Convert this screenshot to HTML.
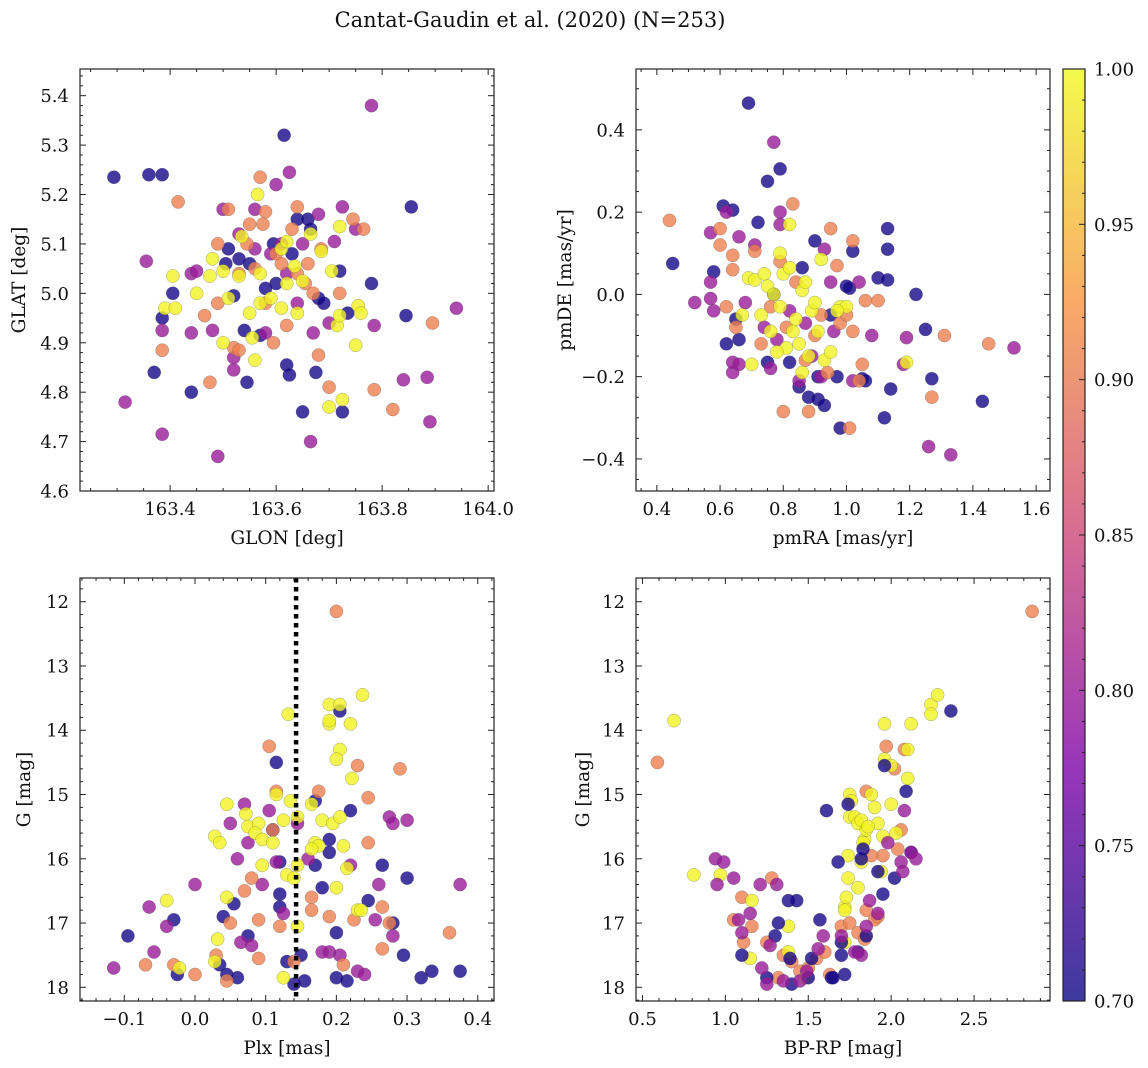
<!DOCTYPE html>
<html><head><meta charset="utf-8"><style>
html,body{margin:0;padding:0;background:#fff;}
svg{display:block;font-family:"DejaVu Serif","Liberation Serif",serif;}
</style></head><body>
<svg id="fig" width="1148" height="1068" viewBox="0 0 1148 1068" xmlns="http://www.w3.org/2000/svg">
<text x="530" y="27" font-size="21" text-anchor="middle" fill="#111">Cantat-Gaudin et al. (2020) (N=253)</text>
</svg>
<script>
// ---- data: each panel has x values, y values, membership probability ----
const glonBlue=[163.294,163.36,163.385,163.615,163.855,163.385,163.405,163.37,163.44,163.51,163.52,163.54,163.545,163.57,163.62,163.625,163.65,163.725,163.72,163.78,163.845,163.64,163.66,163.68,163.69,163.735,163.60,163.55,163.63,163.665,163.58,163.675,163.505,163.53,163.595];
const glatBlue=[5.235,5.24,5.24,5.32,5.175,4.95,5.0,4.84,4.80,5.09,4.995,4.925,4.82,4.915,4.855,4.835,4.76,4.76,5.045,5.02,4.955,5.15,5.15,4.99,4.98,4.96,5.02,5.06,5.08,5.13,5.01,4.84,5.06,5.07,5.1];
const glonPurp=[163.355,163.315,163.385,163.385,163.44,163.44,163.49,163.48,163.52,163.58,163.625,163.60,163.665,163.68,163.725,163.78,163.785,163.84,163.885,163.89,163.94,163.75,163.56,163.53,163.65,163.70,163.67,163.61,163.50,163.71,163.45,163.52,163.59,163.62,163.56,163.64];
const glatPurp=[5.065,4.78,4.715,4.925,4.92,5.04,4.67,4.925,4.845,4.92,5.245,5.22,4.70,5.16,5.175,5.38,4.935,4.825,4.83,4.74,4.97,5.13,5.17,5.12,5.10,4.94,4.92,5.10,5.17,5.105,5.045,4.87,5.08,5.04,5.09,4.98];
const glonSalm=[163.415,163.385,163.475,163.51,163.57,163.58,163.55,163.52,163.53,163.62,163.68,163.70,163.785,163.82,163.895,163.745,163.765,163.64,163.60,163.465,163.49,163.58,163.66,163.72,163.53,163.685,163.64,163.595,163.56,163.61,163.63,163.575,163.545,163.655,163.49,163.67];
const glatSalm=[5.185,4.885,4.82,5.17,5.235,5.165,5.14,4.89,4.885,4.935,4.875,4.81,4.805,4.765,4.94,5.15,5.13,5.04,5.08,4.955,5.1,4.98,5.06,5.0,5.04,5.09,5.175,4.90,5.05,5.06,5.13,5.14,5.1,5.02,4.98,5.0];
const glonYell=[163.405,163.39,163.41,163.45,163.48,163.50,163.50,163.51,163.535,163.565,163.57,163.55,163.56,163.57,163.59,163.61,163.62,163.635,163.64,163.665,163.685,163.705,163.72,163.715,163.72,163.70,163.725,163.755,163.76,163.75,163.53,163.61,163.65,163.62,163.475,163.555];
const glatYell=[5.035,4.97,4.97,5.0,5.07,5.045,4.90,4.99,5.115,5.2,5.04,4.96,4.865,4.98,4.99,5.09,5.105,5.055,4.96,5.12,5.085,5.045,5.135,4.935,4.955,4.77,4.785,4.975,4.96,4.895,5.035,4.97,5.025,5.02,5.035,4.91];

const pmraBlue=[0.69,0.79,0.75,0.45,0.61,0.64,0.58,0.62,0.65,0.72,0.75,0.82,0.85,0.88,0.91,0.93,0.98,0.97,1.01,1.02,1.00,1.10,1.13,1.13,1.13,1.12,1.14,1.22,1.25,1.27,1.43,1.05,0.95,0.90,0.77,0.86,1.06,0.66,0.91];
const pmdeBlue=[0.465,0.305,0.275,0.075,0.215,0.205,0.055,-0.12,-0.06,0.175,-0.165,-0.165,-0.225,-0.25,-0.255,-0.27,-0.325,-0.2,0.015,0.105,0.02,0.04,0.11,0.16,0.035,-0.30,-0.23,0.0,-0.085,-0.205,-0.26,-0.205,-0.05,0.13,0.0,0.065,-0.21,-0.11,-0.2];
const pmraPurp=[0.77,0.62,0.79,0.66,0.57,0.52,0.57,0.58,0.64,0.64,0.76,0.85,0.92,1.02,1.19,1.18,1.26,1.33,1.53,0.79,0.66,0.71,0.87,0.95,1.08,0.74,0.68,0.93,1.04,0.57,0.82,0.89,0.78,0.96];
const pmdePurp=[0.37,0.2,0.2,0.14,0.15,-0.02,-0.01,-0.04,-0.19,-0.165,-0.18,-0.21,-0.2,-0.21,-0.105,-0.17,-0.37,-0.39,-0.13,0.17,-0.17,0.12,-0.07,0.03,-0.1,-0.08,-0.02,0.11,0.03,0.03,-0.04,-0.15,-0.11,-0.09];
const pmraSalm=[0.44,0.60,0.60,0.64,0.64,0.83,0.95,1.02,0.80,0.88,1.01,1.27,1.31,1.45,1.10,0.65,0.73,0.90,0.98,1.02,1.04,0.92,0.76,0.84,0.97,1.00,0.71,0.62,1.06,0.81,0.94,0.87,0.79,1.05];
const pmdeSalm=[0.18,0.16,0.12,0.095,0.06,0.22,0.16,0.13,-0.285,-0.285,-0.325,-0.25,-0.10,-0.12,-0.015,-0.08,-0.12,-0.10,-0.07,-0.09,-0.21,-0.05,-0.03,0.03,0.07,-0.05,0.105,-0.03,-0.015,-0.08,-0.19,-0.16,0.08,-0.17];
const pmraYell=[0.82,0.69,0.71,0.74,0.75,0.77,0.79,0.80,0.82,0.84,0.85,0.81,0.78,0.76,0.73,0.70,0.88,0.89,0.91,0.93,0.95,0.98,1.00,1.19,0.86,0.83,0.79,0.87,0.92,0.67,0.90,0.97,0.86];
const pmdeYell=[0.17,0.04,0.035,0.05,0.02,0.0,-0.03,0.05,0.065,-0.06,-0.12,-0.13,-0.14,-0.09,-0.05,-0.17,-0.15,-0.04,-0.09,-0.16,-0.14,-0.03,-0.03,-0.165,0.01,-0.09,0.10,0.03,0.085,-0.05,-0.02,-0.04,-0.19];

const plxBlue=[-0.095,-0.025,-0.03,0.035,0.04,0.045,0.06,0.11,0.115,0.12,0.13,0.12,0.14,0.155,0.17,0.18,0.19,0.20,0.205,0.22,0.215,0.265,0.28,0.295,0.30,0.32,0.335,0.375,0.245,0.17,0.12,0.075,0.15,0.20,0.19,0.055];
const gBlue=[17.2,17.8,16.95,17.65,16.9,17.8,17.85,15.55,14.5,16.05,17.6,16.55,17.95,17.9,16.1,16.45,15.7,17.85,13.7,15.25,17.9,16.1,17.0,17.5,16.3,17.85,17.75,17.75,16.65,15.1,16.75,17.2,17.5,17.15,15.9,16.7];
const plxPurp=[-0.115,-0.065,-0.04,-0.058,0.0,0.05,0.07,0.075,0.065,0.095,0.105,0.115,0.16,0.19,0.23,0.255,0.26,0.275,0.28,0.30,0.375,0.145,0.22,0.125,0.08,0.18,0.24,0.06,0.28,0.205];
const gPurp=[17.7,16.75,17.05,17.45,16.4,15.45,15.15,15.75,17.3,16.4,15.25,16.05,16.0,17.45,17.75,16.95,16.4,15.35,15.45,15.4,16.4,15.45,16.1,16.85,17.35,17.45,17.8,16.0,17.2,17.5];
const plxSalm=[0.20,0.105,0.29,0.115,0.175,0.245,0.245,0.0,0.05,0.07,0.09,0.09,0.12,0.165,0.19,0.225,0.265,0.265,0.36,-0.07,-0.03,0.03,0.14,0.21,0.11,0.08,0.23,0.165,0.275,0.045];
const gSalm=[12.15,14.25,14.6,14.95,14.95,15.05,15.75,17.8,17.0,16.5,16.95,17.55,17.05,16.6,16.9,16.95,17.4,16.75,17.15,17.65,17.65,17.5,17.6,17.65,15.55,16.3,14.55,16.8,17.0,17.9];
const plxYell=[0.237,0.19,0.205,0.19,0.132,0.19,0.205,0.20,0.22,0.222,0.045,0.028,0.035,0.072,0.075,0.09,0.085,0.095,0.11,0.115,0.125,0.135,0.145,0.165,0.17,0.175,0.18,0.195,0.205,0.21,0.095,0.13,0.14,0.145,0.032,0.028,-0.04,0.23,0.235,0.125,0.045,0.145,0.165,0.215,0.2,-0.022];
const gYell=[13.45,13.6,13.6,13.9,13.75,13.85,14.3,14.45,13.9,14.75,15.15,15.65,15.75,15.3,15.5,15.45,15.6,15.7,15.75,15.0,15.4,15.1,15.35,15.15,15.75,15.8,15.4,15.45,15.35,15.8,16.1,16.25,16.3,16.1,17.25,17.6,16.65,16.8,16.8,17.85,16.6,17.05,15.85,16.15,16.45,17.7];

const bprpSalm=[2.85,0.59,1.97,1.95,2.04,1.10,1.05,1.11,1.25,1.28,1.35,1.40,1.50,1.55,1.60,1.70,1.75,1.80,1.85,1.90,1.92,1.16,1.32,1.45,1.63,1.84,1.88,2.06,2.02,2.08,1.85];
const gSalm4=[12.15,14.5,14.25,15.95,15.85,16.6,16.95,17.3,17.3,16.3,17.5,17.6,17.7,17.55,17.45,17.05,17.0,17.15,16.8,16.95,16.9,17.05,17.85,17.75,17.8,17.25,15.95,15.55,14.6,14.3,14.95];
const bprpYell=[0.69,0.81,0.97,1.16,1.15,1.38,1.38,1.48,1.72,1.72,1.73,1.74,1.75,1.75,1.76,1.78,1.80,1.82,1.84,1.85,1.88,1.90,1.92,1.95,1.96,2.0,2.0,2.03,2.10,2.12,2.24,2.24,2.28,1.96,1.72,1.80,1.82,1.83,1.86,1.94,2.1,1.74];
const gYell4=[13.85,16.25,16.25,16.65,17.55,17.05,17.45,17.85,17.3,16.75,16.6,16.3,15.0,15.35,15.1,15.35,15.45,15.4,15.7,15.55,15.0,15.2,15.45,15.65,14.45,14.55,15.15,15.6,14.75,13.9,13.6,13.75,13.45,13.9,16.8,16.45,16.05,15.75,15.5,16.2,14.3,15.95];
const bprpBlue=[2.36,1.61,1.68,2.09,2.12,2.02,1.95,1.92,1.85,1.80,1.72,1.64,1.50,1.40,1.38,1.43,1.25,1.30,1.10,1.57,1.65,1.70,1.82,1.96,1.83,1.52,1.39,1.32,1.70,1.74];
const gBlue4=[13.7,15.25,16.05,14.95,15.9,16.3,16.55,16.2,17.2,17.45,17.8,17.85,17.85,17.95,16.65,16.65,17.85,17.2,17.5,16.95,17.85,17.5,16.0,14.55,15.85,17.55,17.55,17.0,17.3,15.15];
const bprpPurp=[0.94,0.99,1.05,0.95,1.08,1.21,1.31,1.25,1.45,1.59,1.78,1.87,1.92,2.06,2.12,2.15,2.08,1.98,1.85,1.82,1.35,1.56,1.49,1.70,2.07,1.22,1.27,1.15,1.1];
const gPurp4=[16.0,16.05,16.3,16.4,16.95,16.4,16.4,17.95,17.9,17.2,17.45,16.65,16.85,16.05,15.9,16.0,15.25,15.75,17.05,17.5,17.9,17.4,17.75,17.2,16.2,17.7,17.35,16.85,17.15];

const probBlue=0.705, probPurp=0.80, probSalm=0.905, probYell=0.995;
const cbTicks=[0.70,0.75,0.80,0.85,0.90,0.95,1.00];
</script>
<script>
const NS="http://www.w3.org/2000/svg";
const svg=document.getElementById('fig');
function mk(tag,attrs,parent){const e=document.createElementNS(NS,tag);for(const k in attrs)e.setAttribute(k,attrs[k]);(parent||svg).appendChild(e);return e;}
const stops=[[0,[13,8,135]],[0.25,[126,3,168]],[0.5,[204,71,120]],[0.75,[248,149,64]],[1,[240,249,33]]];
function plasma(t){t=Math.max(0,Math.min(1,t));for(let i=0;i<stops.length-1;i++){const a=stops[i],b=stops[i+1];if(t<=b[0]){const f=(t-a[0])/(b[0]-a[0]);const c=a[1].map((v,j)=>Math.round(v+(b[1][j]-v)*f));return `rgb(${c[0]},${c[1]},${c[2]})`;}}return 'rgb(240,249,33)';}
function pc(p){return plasma((p-0.7)/0.3);}
function fmt(v,d){let s=v.toFixed(d);if(v<-1e-9)s='\u2212'+s.slice(1);return s;}

function panel(cfg){
  const g=mk('g',{});
  
  
  const {L,T,R,B}=cfg;
  const sx=v=>L+(v-cfg.x0)/(cfg.x1-cfg.x0)*(R-L);
  const sy=cfg.inv?(v=>T+(v-cfg.y0)/(cfg.y1-cfg.y0)*(B-T)):(v=>B-(v-cfg.y0)/(cfg.y1-cfg.y0)*(B-T));
  const cp=mk('clipPath',{id:cfg.name+'-clip'},g);mk('rect',{x:L,y:T,width:R-L,height:B-T},cp);
  const pts=mk('g',{'clip-path':`url(#${cfg.name}-clip)`},g);
  
  
  cfg.series.forEach(s=>{
    s.xs.forEach((xv,i)=>{
      const c=mk('circle',{cx:sx(xv).toFixed(1),cy:sy(s.ys[i]).toFixed(1),r:6.6,fill:pc(s.p),'fill-opacity':0.8,stroke:'#555','stroke-opacity':0.5,'stroke-width':0.5},pts);
      
      
    });
  });
  if(cfg.vline!==undefined){
    const l=mk('line',{x1:sx(cfg.vline),x2:sx(cfg.vline),y1:T,y2:B,stroke:'#000','stroke-width':4.5,'stroke-dasharray':'4.5,4.5'},g);
    
    
  }
  const fr=mk('rect',{x:L,y:T,width:R-L,height:B-T,fill:'none',stroke:'#222','stroke-width':1.2},g);
  
  
  const tk=mk('g',{stroke:'#222','stroke-width':1},g);
  const eps=1e-9;
  for(let v=Math.ceil(cfg.x0/cfg.xmin-eps)*cfg.xmin;v<=cfg.x1+eps;v+=cfg.xmin){
    const X=sx(v);const major=Math.abs(v/cfg.xmaj-Math.round(v/cfg.xmaj))<1e-6;const len=major?6:3;
    mk('line',{x1:X,x2:X,y1:B,y2:B-len},tk);mk('line',{x1:X,x2:X,y1:T,y2:T+len},tk);
  }
  for(let v=Math.ceil(cfg.y0/cfg.ymin-eps)*cfg.ymin;v<=cfg.y1+eps;v+=cfg.ymin){
    const Y=sy(v);const major=Math.abs(v/cfg.ymaj-Math.round(v/cfg.ymaj))<1e-6;const len=major?6:3;
    mk('line',{y1:Y,y2:Y,x1:L,x2:L+len},tk);mk('line',{y1:Y,y2:Y,x1:R,x2:R-len},tk);
  }
  cfg.xticks.forEach(v=>{const t=mk('text',{x:sx(v),y:B+24,'font-size':18,'text-anchor':'middle',fill:'#111'},g);t.textContent=fmt(v,cfg.xd);
    });
  cfg.yticks.forEach(v=>{const t=mk('text',{x:L-11,y:sy(v)+6.5,'font-size':18,'text-anchor':'end',fill:'#111'},g);t.textContent=fmt(v,cfg.yd);
    });
  const xl=mk('text',{x:(L+R)/2,y:B+53,'font-size':18.5,'text-anchor':'middle',fill:'#111'},g);xl.textContent=cfg.xlabel;
  
  const yx=cfg.ylx, yy=(T+B)/2;
  const yl=mk('text',{x:yx,y:yy,'font-size':18.5,'text-anchor':'middle',fill:'#111',transform:`rotate(-90 ${yx} ${yy})`},g);yl.textContent=cfg.ylabel;
  
}
function S(xs,ys,p){return {xs,ys,p};}
panel({name:'glon-glat-panel',L:80,T:69,R:494,B:491,x0:163.230,x1:164.011,y0:4.6,y1:5.454,xmaj:0.2,xmin:0.05,ymaj:0.1,ymin:0.02,
  xticks:[163.4,163.6,163.8,164.0],xd:1,yticks:[4.6,4.7,4.8,4.9,5.0,5.1,5.2,5.3,5.4],yd:1,xlabel:'GLON [deg]',ylabel:'GLAT [deg]',ylx:25,
  series:[S(glonBlue,glatBlue,probBlue),S(glonPurp,glatPurp,probPurp),S(glonSalm,glatSalm,probSalm),S(glonYell,glatYell,probYell)]});
panel({name:'pmra-pmde-panel',L:636,T:69,R:1050,B:491,x0:0.334,x1:1.644,y0:-0.478,y1:0.548,xmaj:0.2,xmin:0.05,ymaj:0.2,ymin:0.05,
  xticks:[0.4,0.6,0.8,1.0,1.2,1.4,1.6],xd:1,yticks:[-0.4,-0.2,0.0,0.2,0.4],yd:1,xlabel:'pmRA [mas/yr]',ylabel:'pmDE [mas/yr]',ylx:571,
  series:[S(pmraBlue,pmdeBlue,probBlue),S(pmraPurp,pmdePurp,probPurp),S(pmraSalm,pmdeSalm,probSalm),S(pmraYell,pmdeYell,probYell)]});
panel({name:'plx-g-panel',L:80,T:578,R:494,B:1001,x0:-0.1627,x1:0.423,y0:11.631,y1:18.213,inv:true,xmaj:0.1,xmin:0.02,ymaj:1,ymin:0.2,
  xticks:[-0.1,0.0,0.1,0.2,0.3,0.4],xd:1,yticks:[12,13,14,15,16,17,18],yd:0,xlabel:'Plx [mas]',ylabel:'G [mag]',ylx:30,vline:0.143,
  series:[S(plxBlue,gBlue,probBlue),S(plxPurp,gPurp,probPurp),S(plxSalm,gSalm,probSalm),S(plxYell,gYell,probYell)]});
panel({name:'color-magnitude-panel',L:636,T:578,R:1050,B:1001,x0:0.461,x1:2.958,y0:11.631,y1:18.213,inv:true,xmaj:0.5,xmin:0.1,ymaj:1,ymin:0.2,
  xticks:[0.5,1.0,1.5,2.0,2.5],xd:1,yticks:[12,13,14,15,16,17,18],yd:0,xlabel:'BP-RP [mag]',ylabel:'G [mag]',ylx:589,
  series:[S(bprpSalm,gSalm4,probSalm),S(bprpYell,gYell4,probYell),S(bprpBlue,gBlue4,probBlue),S(bprpPurp,gPurp4,probPurp)]});

// colorbar
(function(){
  const L=1063,R=1085,T=69,B=1001;
  const g=mk('g',{});
  
  
  const defs=mk('defs',{},g);
  const lg=mk('linearGradient',{id:'cbgrad',x1:0,y1:1,x2:0,y2:0},defs);
  for(let i=0;i<=20;i++){mk('stop',{offset:i/20,'stop-color':plasma(i/20),'stop-opacity':0.8},lg);}
  mk('rect',{x:L,y:T,width:R-L,height:B-T,fill:'url(#cbgrad)',stroke:'#222','stroke-width':1.2},g);
  const sy=v=>B-(v-0.7)/0.3*(B-T);
  for(let k=0;k<=30;k++){const v=0.7+k*0.01;const Y=sy(v);const major=k%5===0;
    mk('line',{x1:R,x2:R-(major?6:3),y1:Y,y2:Y,stroke:'#222','stroke-width':1},g);}
  cbTicks.forEach(v=>{const t=mk('text',{x:R+9,y:sy(v)+6.5,'font-size':18,fill:'#111'},g);t.textContent=v.toFixed(2);
    });
})();
</script>
</body></html>
